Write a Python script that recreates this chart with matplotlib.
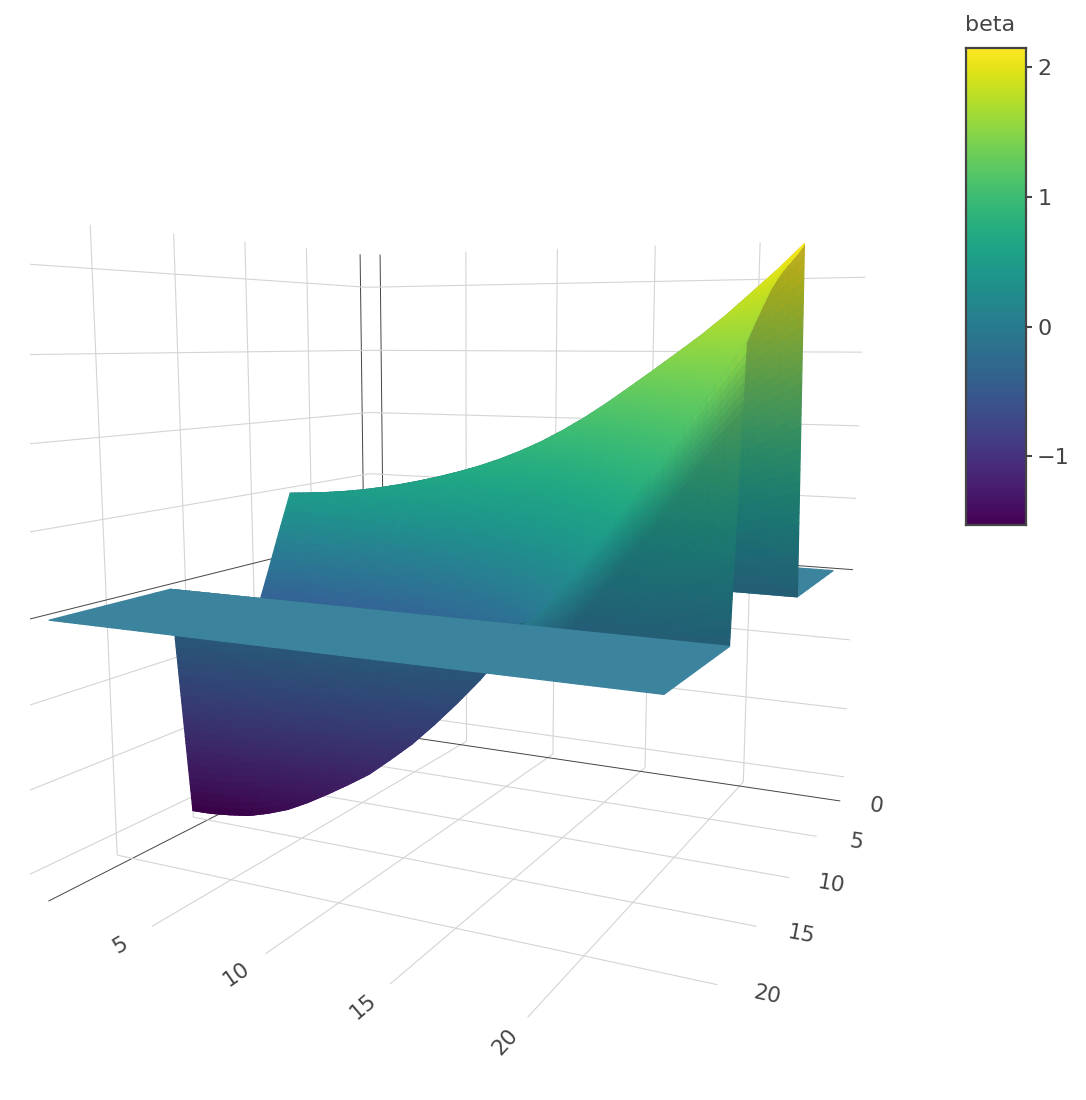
import numpy as np
import matplotlib
matplotlib.use("Agg")
import matplotlib.pyplot as plt
from matplotlib.transforms import Bbox
from mpl_toolkits.mplot3d.art3d import Poly3DCollection

lag_b = list(range(25))
lag_a = list(range(25))

# rows of beta that differ from the flat zero level, keyed by lag_b
beta_rows = {
    8: [0.48, 0.489, 0.50, 0.515, 0.534, 0.558, 0.586, 0.618, 0.654, 0.694, 0.739, 0.791, 0.851,
        0.919, 0.998, 1.085, 1.182, 1.286, 1.392, 1.50, 1.61, 1.73, 1.862, 1.995, 2.14],
    9: [0.21, 0.22, 0.24, 0.25, 0.28, 0.31, 0.34, 0.38, 0.43, 0.48, 0.53, 0.59, 0.67,
        0.75, 0.84, 0.93, 1.04, 1.16, 1.27, 1.39, 1.51, 1.64, 1.78, 1.93, 2.08],
    10: [-0.07, -0.06, -0.04, -0.01, 0.02, 0.05, 0.10, 0.15, 0.20, 0.26, 0.33, 0.40, 0.49,
         0.58, 0.68, 0.80, 0.92, 1.04, 1.16, 1.29, 1.43, 1.57, 1.72, 1.87, 2.03],
    11: [-0.34, -0.32, -0.30, -0.27, -0.23, -0.19, -0.13, -0.07, -0.01, 0.06, 0.14, 0.22, 0.32,
         0.42, 0.53, 0.66, 0.79, 0.92, 1.06, 1.20, 1.34, 1.49, 1.65, 1.81, 1.98],
    12: [-0.60, -0.58, -0.55, -0.52, -0.48, -0.43, -0.37, -0.30, -0.23, -0.16, -0.07, 0.03, 0.14,
         0.25, 0.37, 0.51, 0.65, 0.79, 0.94, 1.09, 1.25, 1.41, 1.57, 1.74, 1.92],
    13: [-0.83, -0.81, -0.79, -0.76, -0.71, -0.66, -0.59, -0.52, -0.45, -0.36, -0.27, -0.17, -0.05,
         0.07, 0.21, 0.36, 0.51, 0.65, 0.81, 0.97, 1.14, 1.31, 1.49, 1.67, 1.85],
    14: [-1.05, -1.04, -1.01, -0.99, -0.94, -0.89, -0.83, -0.75, -0.67, -0.59, -0.49, -0.38, -0.26,
         -0.12, 0.02, 0.18, 0.34, 0.49, 0.65, 0.83, 1.01, 1.19, 1.37, 1.57, 1.76],
    15: [-1.28, -1.27, -1.25, -1.23, -1.19, -1.14, -1.07, -0.99, -0.91, -0.82, -0.71, -0.60, -0.47,
         -0.33, -0.18, -0.01, 0.16, 0.32, 0.49, 0.68, 0.88, 1.06, 1.26, 1.47, 1.67],
    16: [-1.53, -1.525, -1.51, -1.49, -1.45, -1.40, -1.33, -1.25, -1.165, -1.075, -0.96, -0.84, -0.70,
         -0.55, -0.39, -0.21, -0.03, 0.14, 0.32, 0.52, 0.73, 0.93, 1.14, 1.355, 1.57],
}

a_ticks = [5, 10, 15, 20]
b_ticks = [5, 10, 15, 20]
z_ticks = [-1.5, -1, -0.5, 0.5, 1, 1.5, 2]
cb_ticks = [-1, 0, 1, 2]
cb_labels = ["\u22121", "0", "1", "2"]
zmin, zmax = -1.53, 2.15
a_lim = (-0.7996, 24.7569)
b_lim = (-0.6794, 24.7552)
z_lim = (-1.6465, 2.2530)

W, H = 1086, 1100
fig = plt.figure(figsize=(W / 100, H / 100), dpi=100)
ax = fig.add_axes([-79.41 / W, -10.37 / H, 1, 1], projection="3d", computed_zorder=False)
ax.set_proj_type("persp", focal_length=0.22823)
ax.view_init(8.7067, 26.2866)
aspect = np.array([1.0530, 1.0581, 1.0568])
ax.set_box_aspect(aspect, zoom=np.linalg.norm(aspect) / (1.8294640721620434 * 25 / 24))
ax.set_xlim3d(*b_lim)
ax.set_ylim3d(*a_lim)
ax.set_zlim3d(*z_lim)
ax.set_axis_off()

clip = Bbox([[30, 0], [W, H]])
GRID = "#d4d4d4"
DARK = "#444444"
TEXT = "#444444"


def seg(x, y, z, zero=False):
    ln, = ax.plot(x, y, z, color=DARK if zero else GRID, lw=0.7 if zero else 0.8, zorder=1,
                  solid_capstyle="butt")
    ln.set_clip_box(clip)


b_far = b_lim[1] + 1.5  # wall lines run on to the clipped left edge
for a in a_ticks + [0]:
    seg(b_lim, [a, a], [z_lim[0]] * 2, a == 0)
    seg([b_lim[0]] * 2, [a, a], z_lim, a == 0)
for b in b_ticks + [0]:
    seg([b, b], a_lim, [z_lim[0]] * 2, b == 0)
    seg([b, b], [a_lim[0]] * 2, z_lim, b == 0)
for z in z_ticks + [0]:
    seg([b_lim[0], b_far], [a_lim[0]] * 2, [z, z], z == 0)
    seg([b_lim[0]] * 2, a_lim, [z, z], z == 0)

for a in a_ticks:
    ax.text(26.46, a, z_lim[0], str(a), zdir=(-1, 0, 0), fontsize=15.5, color=TEXT,
            ha="center", va="center", zorder=1)
for b in [0] + b_ticks:
    ax.text(b, 26.4, z_lim[0], str(b), zdir=(0, 1, 0), fontsize=15.5, color=TEXT,
            ha="center", va="center", zorder=1)

xs = np.array(lag_b, float)
ys = np.array(lag_a, float)
zz = np.zeros((len(lag_b), len(lag_a)))
for row, vals in beta_rows.items():
    zz[row] = vals

# subdivide the cells so the colour runs smoothly like the original shading
sub_a = 4
sub_b = [1] * 7 + [32] + [6] * 8 + [32] + [1] * 7
cmap = plt.get_cmap("viridis")
tint = np.array([5, 0, 10]) / 255
verts, cols = [], []
for i in range(24):
    for si in range(sub_b[i]):
        u0, u1 = si / sub_b[i], (si + 1) / sub_b[i]
        for j in range(24):
            for sj in range(sub_a):
                v0, v1 = sj / sub_a, (sj + 1) / sub_a
                pts = []
                for u, v in ((u0, v0), (u1, v0), (u1, v1), (u0, v1)):
                    z = ((1 - u) * (1 - v) * zz[i, j] + u * (1 - v) * zz[i + 1, j]
                         + u * v * zz[i + 1, j + 1] + (1 - u) * v * zz[i, j + 1])
                    pts.append((xs[i] + u * (xs[i + 1] - xs[i]), ys[j] + v * (ys[j + 1] - ys[j]), z))
                pts = np.array(pts)
                zm = pts[:, 2].mean()
                c = np.array(cmap((zm - zmin) / (zmax - zmin))[:3])
                if i < 7 or i > 16:
                    c = c + np.array([20, 7, 16]) / 255
                elif i == 7:
                    c = c * 0.75 + tint
                elif i == 16:
                    edge = zz[16, j] + (zz[16, j + 1] - zz[16, j]) * (v0 + v1) / 2
                    if edge > 0:
                        w = min(1, edge * (u0 + u1) / 2 / 0.35)
                        c = c * (1 - 0.25 * w) + tint * w
                    else:
                        c = c * 0.84
                else:
                    c = c + np.array([6, -10, 8]) / 255 * np.clip((0.4 - zm) / 0.6, 0, 1)
                verts.append(pts)
                cols.append(np.clip(c, 0, 1))
cols = np.array(cols)
surf = Poly3DCollection(verts, facecolors=cols, edgecolors=cols, linewidths=0.9, zsort="average", zorder=5)
ax.add_collection3d(surf)

# colour bar
cax = fig.add_axes([966 / W, 1 - 525 / H, 60 / W, 477 / H])
cax.imshow(np.linspace(zmax, zmin, 256)[:, None], cmap="viridis", aspect="auto",
           extent=[0, 1, zmin, zmax], vmin=zmin, vmax=zmax)
cax.set_xticks([])
cax.yaxis.tick_right()
cax.set_yticks(cb_ticks)
cax.set_yticklabels(cb_labels, fontsize=16, color=TEXT)
cax.tick_params(axis="y", length=4, width=1.5, color=TEXT, pad=4)
for s in cax.spines.values():
    s.set_linewidth(1.6)
    s.set_color(TEXT)
fig.text(965 / W, 1 - 25 / H, "beta", fontsize=16, color=TEXT, va="center")

fig.savefig("out.png", dpi=100)
